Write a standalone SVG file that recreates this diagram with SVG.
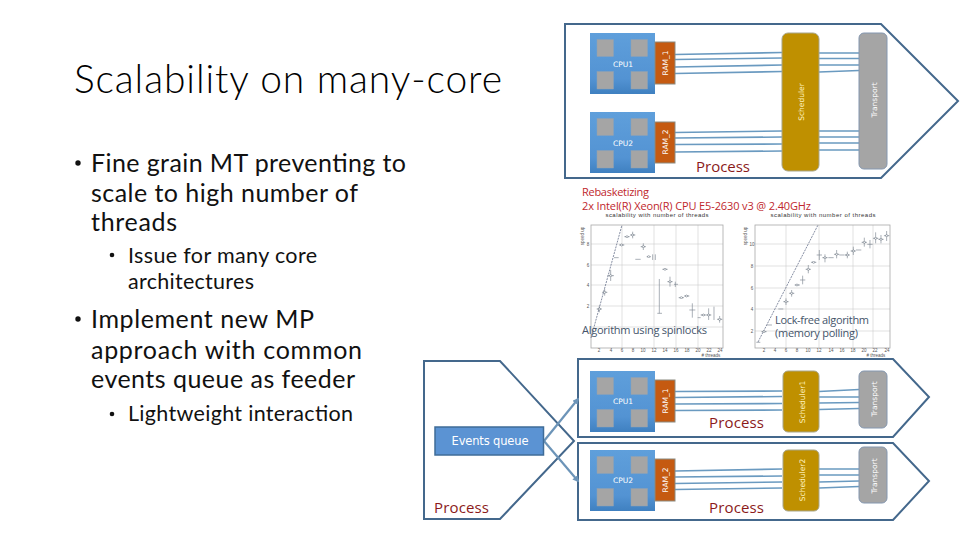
<svg xmlns="http://www.w3.org/2000/svg" width="960" height="540" viewBox="0 0 960 540">
<style>
.t{font-family:Lato,"Open Sans","Liberation Sans",sans-serif;fill:#111}
.b1{font-size:25px}.b2{font-size:21.5px}
.title{font-size:39px;font-weight:300;fill:#000}
.proc{fill:none;stroke:#44688c;stroke-width:2}
.cpu{fill:url(#cpuG)}.sq{fill:#a5a5a5;stroke:#8ea2b5;stroke-width:.5}
.ram{fill:#c55a11;stroke:#8a8a80;stroke-width:1}
.sch{fill:#bf9000;stroke:#a7a58a;stroke-width:1}
.trn{fill:#a5a5a5;stroke:#8497b0;stroke-width:1}
.w{stroke:#6a9ac0;stroke-width:1.6;fill:none}
.lab{font-family:"DejaVu Sans","Liberation Sans",sans-serif;fill:#fff;font-size:7.5px;text-anchor:middle}
.sl{fill:#fff4c0}
.pr{font-family:"Open Sans","Liberation Sans",sans-serif;font-size:15px;font-weight:500;fill:#8b1a1a}
.red{font-family:"Open Sans","Liberation Sans",sans-serif;font-size:11px;fill:#c0272d}
.note{font-family:"Open Sans","Liberation Sans",sans-serif;font-size:11px;fill:#44546a}
.pt{font-family:"Liberation Sans",sans-serif;font-size:6px;fill:#333;text-anchor:middle}
.tick{font-family:"Liberation Sans",sans-serif;font-size:4.5px;fill:#555;text-anchor:middle}
.grid{stroke:#cfcfcf;stroke-width:.6;fill:none}
.frame{stroke:#a8a8a8;stroke-width:.8;fill:none}
.data{stroke:#7f8893;stroke-width:2;fill:none}
.dots{fill:none;stroke:none;marker-start:url(#dm);marker-mid:url(#dm);marker-end:url(#dm)}
.fit{stroke:#66708a;stroke-width:.8;stroke-dasharray:2 1;fill:none}
.arr{stroke:#6c94b8;stroke-width:2.2;fill:none;marker-end:url(#ah)}
</style>
<defs>
<linearGradient id="cpuG" x1="0" y1="0" x2="0" y2="1"><stop offset="0" stop-color="#5f9fdb"/><stop offset=".75" stop-color="#5393d3"/><stop offset="1" stop-color="#3f80c0"/></linearGradient>
<marker id="ah" markerWidth="3" markerHeight="3" refX="2.200" refY="1.500" orient="auto"><path d="M0 0L3 1.500L0 3z" fill="#6c94b8"/></marker>
<marker id="dm" markerUnits="userSpaceOnUse" markerWidth="14" markerHeight="10" refX="7" refY="5"><path d="M2 5L7 2L12 5L7 8Z" fill="#fff" stroke="#6f7884" stroke-width="1.800"/></marker>
<g id="chip">
<rect class="cpu" width="65" height="61"/>
<rect class="sq" x="7" y="6.500" width="16.500" height="17"/><rect class="sq" x="41" y="6.500" width="16.500" height="17"/>
<rect class="sq" x="7" y="38.500" width="16.500" height="17.500"/><rect class="sq" x="41" y="38.500" width="16.500" height="17.500"/>
</g>
</defs>
<rect width="960" height="540" fill="#fff"/>

<g id="title-text">
<text class="t title" x="74" y="93" textLength="428">Scalability on many-core</text>
</g>
<g id="bullets">
<circle cx="78" cy="163" r="2.700" fill="#111"/>
<text class="t b1" x="91" y="172" textLength="315">Fine grain MT preventing to</text>
<text class="t b1" x="91" y="202" textLength="267">scale to high number of</text>
<text class="t b1" x="91" y="231" textLength="86">threads</text>
<circle cx="112" cy="255" r="2.300" fill="#111"/>
<text class="t b2" x="128" y="263" textLength="189">Issue for many core</text>
<text class="t b2" x="128" y="289" textLength="126">architectures</text>
<circle cx="78" cy="319" r="2.700" fill="#111"/>
<text class="t b1" x="91" y="328" textLength="223">Implement new MP</text>
<text class="t b1" x="91" y="359" textLength="271">approach with common</text>
<text class="t b1" x="91" y="388" textLength="264">events queue as feeder</text>
<circle cx="112" cy="414" r="2.300" fill="#111"/>
<text class="t b2" x="128" y="421" textLength="225">Lightweight interaction</text>
</g>

<g id="plot-spinlocks">
<text class="pt" x="657" y="217" textLength="103">scalability with number of threads</text>
<path class="grid" d="M591 244H723M591 265H723M591 285H723M591 306H723M591 327H723M622 225V348M654 225V348M676 225V348M698 225V348"/>
<rect class="frame" x="591" y="225" width="132" height="123"/>
<path class="fit" d="M591 338L622 225"/>
<g transform="translate(570 205) scale(.3333)">
<path class="data" d="M80 312H96M88 302V322M96 262H112M104 252V272M112 212H132M122 195V228M132 158H146M147 120H163M163 95H179M180 90H196M188 80V100M196 163H212M212 125H228M220 115V135M230 155H242M248 148V165M256 148V165M262 325H276M268 222V325M277 193H293M292 230H308M300 215V245M312 238H324M316 230V246M326 278H342M342 273H358M367 295V338M358 315H376M383 338H392M392 330H408M416 310V345M408 330H424M432 305V345M441 343H457M449 333V353"/>
<polyline class="dots" points="88,312 104,262 122,212 155,120 171,95 188,90 220,125 236,155 285,193 300,230 334,278 350,273 400,330 416,330 449,343"/>
</g>
<text class="tick" transform="rotate(-90 584 236)" x="584" y="236">speed up</text>
<g class="tick"><text x="588" y="246">8</text><text x="588" y="267">6</text><text x="588" y="287">4</text><text x="588" y="308">2</text>
<text x="599" y="352">2</text><text x="611" y="352">4</text><text x="622" y="352">6</text><text x="633" y="352">8</text><text x="643" y="352">10</text><text x="654" y="352">12</text><text x="665" y="352">14</text><text x="676" y="352">16</text><text x="687" y="352">18</text><text x="698" y="352">20</text><text x="709" y="352">22</text><text x="720" y="352">24</text><text x="711" y="357"># threads</text></g>
</g>

<g id="plot-lockfree">
<text class="pt" x="823" y="217" textLength="105">scalability with number of threads</text>
<path class="grid" d="M755 244H890M755 266H890M755 288H890M755 309H890M755 331H890M786 225V348M819 225V348M853 225V348M873 225V348"/>
<rect class="frame" x="755" y="225" width="135" height="123"/>
<path class="fit" d="M758 342L818 225"/>
<g transform="translate(570 205) scale(.3333)">
<path class="data" d="M559 412H571M574 380H590M590 360H606M625 312H640M640 290H656M648 280V300M657 265H673M665 255V275M674 240H690M690 225H706M698 212V238M707 193H723M715 180V205M723 172H739M740 150H756M748 135V165M757 158H773M765 148V172M775 158H791M792 148H808M800 135V160M808 150H823M824 150H840M832 140V160M842 138H858M850 125V150M858 135H874M875 112H891M883 98V125M892 118H908M900 105V130M909 100H925M917 82V115M925 103H941M933 90V115M942 92H958M950 78V108"/>
<polyline class="dots" points="582,380 648,290 665,265 681,240 715,193 731,172 765,158 800,148 832,150 850,138 883,112 917,100 933,103 950,92"/>
</g>
<text class="tick" transform="rotate(-90 747 236)" x="747" y="236">speed up</text>
<g class="tick"><text x="752" y="246">10</text><text x="752" y="268">8</text><text x="752" y="290">6</text><text x="752" y="311">4</text><text x="752" y="333">2</text>
<text x="764" y="352">2</text><text x="775" y="352">4</text><text x="786" y="352">6</text><text x="797" y="352">8</text><text x="808" y="352">10</text><text x="819" y="352">12</text><text x="831" y="352">14</text><text x="842" y="352">16</text><text x="853" y="352">18</text><text x="864" y="352">20</text><text x="875" y="352">22</text><text x="887" y="352">24</text><text x="876" y="357"># threads</text></g>
</g>

<g id="notes">
<text class="red" x="582" y="196" textLength="67">Rebasketizing</text>
<text class="red" x="582" y="210" textLength="229">2x Intel(R) Xeon(R) CPU E5-2630 v3 @ 2.40GHz</text>
<text class="note" x="582" y="334" textLength="125">Algorithm using spinlocks</text>
<text class="note" x="775" y="324" textLength="94">Lock-free algorithm</text>
<text class="note" x="775" y="337" textLength="83">(memory polling)</text>
</g>

<g id="connectors">
<path class="w" d="M675 54.500L782 52.500M675 59.500L782 58M675 67L782 65M675 73.500L782 71.500M819 53H859M819 58.500H859M819 65H859M819 72L859 70.500"/>
<path class="w" d="M675 132.500L782 131M675 138L782 137M675 144.500L782 144M675 152L782 151M819 131H859M819 137H859M819 143H859M819 150H859"/>
<path class="w" d="M675 391.500L782 391M675 397.500L782 396.500M675 404L782 403.500M675 410.500L782 410M819 391.500L859 389.500M819 397H859M819 403L859 402.500M819 409.500L859 408.500"/>
<path class="w" d="M675 471L782 469M675 477L782 476M675 483.500L782 482M675 489.500L782 488M819 469H859M819 475H859M819 482L859 481M819 488L859 486.500"/>
</g>

<g id="process-top"><path class="proc" d="M565 24H881L958 101L881 178H565Z"/><text class="pr" x="696" y="172" textLength="54">Process</text></g>
<g id="process-left"><path class="proc" d="M424 361H500L574 441L500 519H424Z"/><text class="pr" x="434" y="513" textLength="55">Process</text></g>
<g id="process-mid"><path class="proc" d="M578 359H893L929 397L893 437H578Z"/><text class="pr" x="709" y="428" textLength="55">Process</text></g>
<g id="process-bottom"><path class="proc" d="M578 443H893L929 481L893 520H578Z"/><text class="pr" x="709" y="513" textLength="55">Process</text></g>

<g id="cpu1-top"><use href="#chip" x="590" y="33"/><text class="lab" x="623" y="67">CPU1</text></g>
<g id="ram1-top"><rect class="ram" x="655" y="42" width="20" height="42"/><text class="lab" transform="rotate(-90 668 63)" x="668" y="63">RAM_1</text></g>
<g id="cpu2-top"><use href="#chip" x="590" y="112"/><text class="lab" x="623" y="146">CPU2</text></g>
<g id="ram2-top"><rect class="ram" x="655" y="122" width="20" height="41"/><text class="lab" transform="rotate(-90 668 142)" x="668" y="142">RAM_2</text></g>
<g id="scheduler-top"><rect class="sch" x="782" y="33" width="37" height="138" rx="6"/><text class="lab sl" transform="rotate(-90 804 102)" x="804" y="102">Scheduler</text></g>
<g id="transport-top"><rect class="trn" x="859" y="33" width="28" height="136" rx="5"/><text class="lab" transform="rotate(-90 877 100)" x="877" y="100">Transport</text></g>

<g id="cpu1-mid"><use href="#chip" x="590" y="371"/><text class="lab" x="623" y="404">CPU1</text></g>
<g id="ram1-mid"><rect class="ram" x="655" y="380" width="20" height="42"/><text class="lab" transform="rotate(-90 668 401)" x="668" y="401">RAM_1</text></g>
<g id="cpu2-bottom"><use href="#chip" x="590" y="450"/><text class="lab" x="623" y="483">CPU2</text></g>
<g id="ram2-bottom"><rect class="ram" x="655" y="459" width="20" height="42"/><text class="lab" transform="rotate(-90 668 480)" x="668" y="480">RAM_2</text></g>
<g id="scheduler1"><rect class="sch" x="783" y="371" width="36" height="61" rx="5"/><text class="lab sl" transform="rotate(-90 805 402)" x="805" y="402">Scheduler1</text></g>
<g id="scheduler2"><rect class="sch" x="783" y="450" width="36" height="61" rx="5"/><text class="lab sl" transform="rotate(-90 805 480)" x="805" y="480">Scheduler2</text></g>
<g id="transport-mid"><rect class="trn" x="859" y="371" width="28" height="57" rx="5"/><text class="lab" transform="rotate(-90 877 399)" x="877" y="399">Transport</text></g>
<g id="transport-bottom"><rect class="trn" x="859" y="447" width="28" height="56" rx="5"/><text class="lab" transform="rotate(-90 877 476)" x="877" y="476">Transport</text></g>

<g id="queue-arrows">
<path class="arr" d="M544 441L578 399"/>
<path class="arr" d="M544 441L578 481"/>
</g>
<g id="events-queue"><rect x="435" y="427" width="108.500" height="28" fill="#5b93d3" stroke="#3f6c98" stroke-width="1.500"/><text x="490" y="445" text-anchor="middle" font-family="'DejaVu Sans','Liberation Sans',sans-serif" font-size="11.500" fill="#fff" textLength="77">Events queue</text></g>
</svg>
